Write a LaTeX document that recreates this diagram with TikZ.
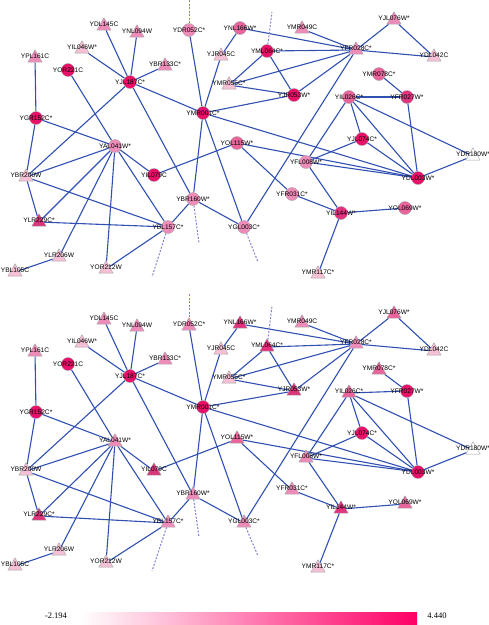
\documentclass[tikz,border=0pt]{standalone}
\usepackage{fontspec}
\setmainfont{Liberation Sans}
\newfontfamily\barfont{Liberation Serif}
\usetikzlibrary{shapes.geometric}
\pgfdeclarelayer{bg}
\pgfdeclarelayer{fg}
\pgfsetlayers{bg,main,fg}
\definecolor{edgec}{RGB}{48,80,178}
\definecolor{dashc}{RGB}{130,130,215}
\definecolor{hot}{RGB}{255,0,102}
\definecolor{cS}{RGB}{232,16,104}
\definecolor{cSb}{RGB}{226,50,125}
\definecolor{cD}{RGB}{218,52,122}
\definecolor{cM}{RGB}{232,100,155}
\definecolor{cL}{RGB}{238,140,185}
\definecolor{cV}{RGB}{245,192,213}
\definecolor{cW}{RGB}{255,255,255}
\tikzset{
  cshape/.style={circle,draw=gray!70,line width=0.4pt,minimum size=13pt,inner sep=0pt},
  tshape/.style={regular polygon,regular polygon sides=3,draw=gray!70,line width=0.4pt,minimum size=16.5pt,inner sep=0pt,yshift=-2pt},
  lbl/.style={font=\fontsize{6.6}{7}\selectfont,inner sep=0pt,text=black},
  edge/.style={draw=edgec,line width=1.1pt},
  dedge/.style={draw=dashc,line width=1pt,dash pattern=on 2pt off 1.5pt},
  barlbl/.style={font=\barfont\fontsize{8.5}{9}\selectfont,inner sep=0pt}
}
\begin{document}
\begin{tikzpicture}[x=1pt,y=-1pt]
\useasboundingbox (0,0) rectangle (489,625);
% nodes: id/x/y/top shape/top colour/bottom shape/bottom colour/label
\foreach \id/\x/\y/\ts/\tc/\bs/\bc/\lab in {
 YDL145C/104/24/tshape/cL/tshape/cL/YDL145C,
 YNL094W/137/31/tshape/cL/tshape/cL/YNL094W,
 YIL046W/82/47/tshape/cV/tshape/cV/YIL046W*,
 YPL161C/35/56/tshape/cL/tshape/cL/YPL161C,
 YOR221C/68/70/cshape/cS/cshape/cS/YOR221C,
 YBR133C/165/64/tshape/cL/tshape/cL/YBR133C*,
 YJL187C/130/82/cshape/cS/cshape/cS/YJL187C*,
 YDR052C/189/30/cshape/cL/tshape/cL/YDR052C*,
 YNL166W/240/28/cshape/cM/tshape/cSb/YNL166W*,
 YJR045C/221/54/tshape/cV/tshape/cV/YJR045C,
 YMR055C/229/83/tshape/cV/tshape/cV/YMR055C*,
 YGR152C/36/118/cshape/cS/cshape/cS/YGR152C*,
 YMR001C/203/113/cshape/cS/cshape/cS/YMR001C*,
 YMR049C/302/27/tshape/cL/tshape/cL/YMR049C,
 YJL076W/394/18/tshape/cL/tshape/cM/YJL076W*,
 YFR028C/356/48/tshape/cL/tshape/cL/YFR028C*,
 YDL042C/434/55/tshape/cV/tshape/cV/YDL042C,
 YML064C/267/51/cshape/cS/tshape/cSb/YML064C*,
 YMR078C/379/74/cshape/cM/tshape/cM/YMR078C*,
 YJR053W/294/95/cshape/cS/tshape/cD/YJR053W*,
 YIL026C/349/97/cshape/cM/tshape/cM/YIL026C*,
 YFR027W/407/97/cshape/cSb/cshape/cS/YFR027W*,
 YJL074C/362/139/cshape/cS/cshape/cS/YJL074C*,
 YAL041W/115/146/cshape/cL/tshape/cL/YAL041W*,
 YBR200W/26/175/tshape/cV/tshape/cV/YBR200W,
 YIL079C/154/175/cshape/cS/tshape/cD/YIL079C,
 YBR160W/193/199/cshape/cL/tshape/cL/YBR160W*,
 YLR229C/39/220/tshape/cD/tshape/cD/YLR229C*,
 YBL157C/168/227/cshape/cL/tshape/cL/YBL157C*,
 YLR206W/59/255/tshape/cV/tshape/cV/YLR206W,
 YOR212W/106/267/tshape/cV/tshape/cV/YOR212W,
 YBL105C/15/270/tshape/cV/tshape/cV/YBL105C,
 YOL115W/237/143/cshape/cM/tshape/cM/YOL115W*,
 YGL003C/244/227/cshape/cL/tshape/cL/YGL003C*,
 YFL008W/306/162/cshape/cL/tshape/cL/YFL008W*,
 YDL003W/418/178/cshape/cS/cshape/cS/YDL003W*,
 YDR180W/473/154/tshape/cW/tshape/cW/YDR180W*,
 YFR031C/292/194/cshape/cL/tshape/cL/YFR031C*,
 YIL144W/341/213/cshape/cSb/tshape/cSb/YIL144W*,
 YOL069W/405/208/cshape/cM/tshape/cM/YOL069W*,
 YMR117C/318/272/tshape/cV/tshape/cV/YMR117C*}
{
  \node[\ts,fill=\tc] (\id-t) at (\x,\y) {};
  \node[\bs,fill=\bc] (\id-b) at (\x,\y+294) {};
  \begin{pgfonlayer}{fg}
    \node[lbl] (\id-lt) at (\x,\y) {\lab};
    \node[lbl] (\id-lb) at (\x,\y+294) {\lab};
  \end{pgfonlayer}
}
% free ends of dashed connectors
\foreach \p/\dy in {t/0,b/294}{
  \coordinate (dA-\p) at (189,0+\dy);
  \coordinate (dB-\p) at (272,12+\dy);
  \coordinate (dC-\p) at (152,277+\dy);
  \coordinate (dD-\p) at (199,243+\dy);
  \coordinate (dE-\p) at (258,262+\dy);
}
\begin{pgfonlayer}{bg}
\foreach \p in {t,b}{
  \foreach \ea/\eb in {
   YPL161C/YGR152C, YDL145C/YJL187C, YNL094W/YJL187C, YIL046W/YJL187C,
   YBR133C/YJL187C, YJL187C/YMR001C, YJL187C/YBR200W, YJL187C/YBR160W,
   YOR221C/YAL041W, YGR152C/YAL041W, YGR152C/YBR200W, YBR200W/YAL041W,
   YBR200W/YBL157C, YBR200W/YLR229C, YAL041W/YLR229C, YAL041W/YLR206W,
   YAL041W/YOR212W, YAL041W/YBL157C, YAL041W/YIL079C, YLR229C/YBL157C,
   YLR206W/YBL105C, YOR212W/YBL157C, YBR160W/YBL157C, YBR160W/YGL003C,
   YMR001C/YBR160W, YMR001C/YGL003C, YIL079C/YOL115W, YDR052C/YMR001C,
   YJR045C/YMR001C, YNL166W/YJR045C, YNL166W/YFR028C, YMR001C/YJR053W,
   YMR001C/YDL003W, YMR055C/YML064C, YMR055C/YFR028C, YMR055C/YJR053W,
   YML064C/YFR028C, YML064C/YJR053W, YMR049C/YFR028C, YFR028C/YJL076W,
   YJL076W/YDL042C, YFR028C/YDL042C, YFR028C/YJR053W, YFR028C/YGL003C,
   YMR078C/YFR027W, YIL026C/YFR027W, YIL026C/YJL074C, YIL026C/YFL008W,
   YIL026C/YDL003W, YIL026C/YDR180W, YFR027W/YDL003W, YJL074C/YFL008W,
   YJL074C/YDL003W, YDR180W/YDL003W, YFL008W/YDL003W, YOL115W/YDL003W,
   YOL115W/YFR031C, YFR031C/YIL144W, YFL008W/YIL144W, YIL144W/YOL069W,
   YIL144W/YMR117C}
  { \draw[edge] (\ea-\p) -- (\eb-\p); }
  \draw[dedge] (YDR052C-\p) -- (dA-\p);
  \draw[dedge] (YML064C-\p) -- (dB-\p);
  \draw[dedge] (YBL157C-\p) -- (dC-\p);
  \draw[dedge] (YBR160W-\p) -- (dD-\p);
  \draw[dedge] (YGL003C-\p) -- (dE-\p);
}
\end{pgfonlayer}
% colour bar
\shade[left color=white,right color=hot] (80,612) rectangle (417,624);
\node[barlbl] (minv) at (56,616) {-2.194};
\node[barlbl] (maxv) at (437,616) {4.440};
\end{tikzpicture}
\end{document}
